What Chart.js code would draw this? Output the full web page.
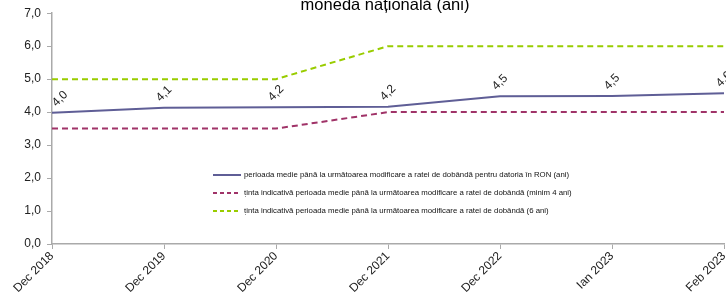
<!DOCTYPE html>
<html>
<head>
<meta charset="utf-8">
<script src="https://cdn.jsdelivr.net/npm/chart.js@4.4.0/dist/chart.umd.min.js"></script>
<style>
    html, body { margin: 0; padding: 0; background: #fff; }
    #wrap { width: 726px; height: 304px; position: relative; }
</style>
</head>
<body>
<div id="wrap"><canvas id="chart"></canvas></div>
<script>
const categories = ['Dec 2018', 'Dec 2019', 'Dec 2020', 'Dec 2021', 'Dec 2022', 'Ian 2023', 'Feb 2023'];
const avgPeriod = [3.98, 4.13, 4.15, 4.16, 4.48, 4.49, 4.57];
const targetMin = [3.5, 3.5, 3.5, 4.0, 4.0, 4.0, 4.0];
const targetSix = [5.0, 5.0, 5.0, 6.0, 6.0, 6.0, 6.0];
const seriesNames = [
    'perioada medie până la următoarea modificare a ratei de dobândă pentru datoria în RON (ani)',
    'ținta indicativă perioada medie până la următoarea modificare a ratei de dobândă (minim 4 ani)',
    'ținta indicativă perioada medie până la următoarea modificare a ratei de dobândă (6 ani)'
];
const titleText = 'moneda națională (ani)';

const FONT = '"Liberation Sans", Arial, sans-serif';
const fmt = v => v.toFixed(1).replace('.', ',');

// title fragment, value labels and the in-plot legend
const extras = {
    id: 'extras',
    afterDraw(chart) {
        const ctx = chart.ctx;
        ctx.save();
        ctx.fillStyle = '#000';
        ctx.font = '16.5px ' + FONT;
        ctx.textAlign = 'center';
        ctx.textBaseline = 'alphabetic';
        ctx.fillText(titleText, 385, 10);

        // value labels on the first series
        const meta = chart.getDatasetMeta(0);
        ctx.font = '12px ' + FONT;
        ctx.fillStyle = '#222';
        meta.data.forEach((pt, i) => {
            ctx.save();
            const dx = i === 0 ? 8 : 0;
            ctx.translate(pt.x + dx, pt.y - 14);
            ctx.rotate(-Math.PI / 4);
            ctx.textAlign = 'center';
            ctx.textBaseline = 'middle';
            ctx.fillText(fmt(avgPeriod[i]), 0, 0);
            ctx.restore();
        });

        // legend
        ctx.font = '7.8px ' + FONT;
        ctx.textAlign = 'left';
        ctx.textBaseline = 'middle';
        chart.data.datasets.forEach((ds, i) => {
            const y = 175 + i * 18;
            ctx.beginPath();
            ctx.strokeStyle = ds.borderColor;
            ctx.lineWidth = 2;
            ctx.setLineDash(ds.borderDash ? [4, 3] : []);
            ctx.moveTo(213, y);
            ctx.lineTo(241, y);
            ctx.stroke();
            ctx.setLineDash([]);
            ctx.fillStyle = '#111';
            ctx.fillText(ds.label, 244, y);
        });
        ctx.restore();
    }
};

new Chart(document.getElementById('chart'), {
    type: 'line',
    data: {
        labels: categories,
        datasets: [
            { label: seriesNames[0], data: avgPeriod, borderColor: '#5f5e96', borderWidth: 2, pointRadius: 0, tension: 0 },
            { label: seriesNames[1], data: targetMin, borderColor: '#a03368', borderWidth: 2, borderDash: [6, 4], pointRadius: 0, tension: 0 },
            { label: seriesNames[2], data: targetSix, borderColor: '#99cc00', borderWidth: 2, borderDash: [6, 4], pointRadius: 0, tension: 0 }
        ]
    },
    options: {
        responsive: true,
        maintainAspectRatio: false,
        animation: false,
        layout: { padding: { top: 10, right: 2, left: 0, bottom: 0 } },
        plugins: { legend: { display: false }, tooltip: { enabled: false } },
        scales: {
            x: {
                offset: false,
                afterFit: s => { s.height = 60; s.paddingRight = 0; },
                grid: { display: true, drawOnChartArea: false, drawTicks: true, tickLength: 5, color: '#aaa' },
                border: { color: '#aaa', width: 1.5 },
                ticks: {
                    color: '#222',
                    font: { size: 12, family: FONT },
                    maxRotation: 45, minRotation: 45, autoSkip: false, padding: 0
                }
            },
            y: {
                min: 0, max: 7,
                afterFit: s => { s.width = 52; },
                grid: { drawOnChartArea: false, drawTicks: true, tickLength: 5, color: '#aaa' },
                border: { color: '#aaa', width: 1.5 },
                ticks: {
                    stepSize: 1, color: '#222', padding: 6,
                    font: { size: 12, family: FONT },
                    callback: v => fmt(v)
                }
            }
        }
    },
    plugins: [extras]
});
</script>
</body>
</html>
